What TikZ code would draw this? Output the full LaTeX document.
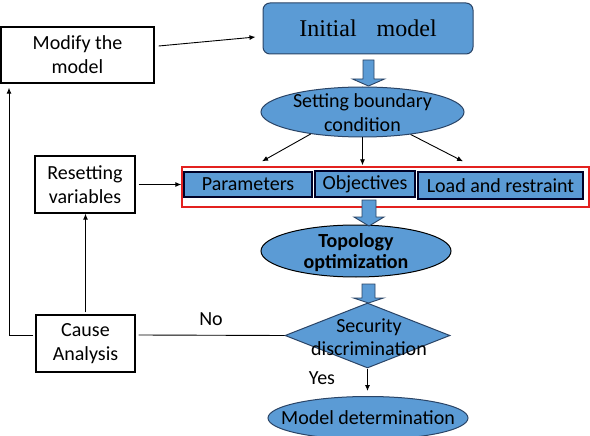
\documentclass[tikz,border=0pt]{standalone}
\usepackage{fontspec}
\setmainfont{Carlito}
\newfontfamily\serifft{Liberation Serif}
\usetikzlibrary{shapes.geometric,arrows.meta,calc}
\definecolor{fillb}{HTML}{5B9BD5}
\definecolor{edgeb}{HTML}{2A4466}
\definecolor{redb}{HTML}{E3211F}
\newcommand\blkarrow[6]{\draw[blockarr] (#1-#5,#2) -- (#1+#5,#2) -- (#1+#5,#3) -- (#1+#6,#3) -- (#1,#4) -- (#1-#6,#3) -- (#1-#5,#3) -- cycle;}
\begin{document}
\begin{tikzpicture}[x=1pt,y=-1pt,
  txt/.style={font=\fontsize{20}{24}\selectfont, align=center, inner sep=0pt},
  wbox/.style={draw=black, line width=1.3pt, fill=white, inner sep=0pt, align=center, font=\fontsize{20}{24}\selectfont},
  subbox/.style={draw=black!85!blue, line width=1.3pt, fill=fillb, inner sep=0pt, font=\fontsize{20}{24}\selectfont},
  ell/.style={ellipse, draw=edgeb, line width=1pt, fill=fillb, inner sep=0pt},
  arr/.style={-{Latex[length=6pt,width=5pt]}, line width=0.9pt},
  plain/.style={line width=0.9pt},
  blockarr/.style={fill=fillb, draw=edgeb, line width=0.9pt}]
\useasboundingbox (0,0) rectangle (590,436);
\fill[white] (0,0) rectangle (590,436);

% nodes
\node[draw=edgeb, fill=fillb, line width=1pt, rounded corners=7pt, minimum width=210pt, minimum height=51pt, inner sep=0pt,
      font=\serifft\fontsize{24}{28}\selectfont] (init) at (368,28.5) {Initial\hspace{14pt} model};
\node[wbox, minimum width=153pt, minimum height=56pt] (modify) at (77.5,55) {Modify the\\model};
\node[ell, minimum width=203pt, minimum height=50pt] (set) at (362.5,112) {};
\node[txt] (settxt) at (362.5,113) {Setting boundary\\condition};
\node[draw=redb, line width=1.4pt, minimum width=407pt, minimum height=40pt, inner sep=0pt] (red) at (385.5,187) {};
\node[subbox, minimum width=128pt, minimum height=25pt] (params) at (248,184.5) {Parameters};
\node[subbox, minimum width=100pt, minimum height=26pt] (objs) at (365,184) {Objectives};
\node[subbox, minimum width=165pt, minimum height=27pt] (load) at (500.5,185.5) {Load and restraint};
\node[wbox, minimum width=100pt, minimum height=57pt] (reset) at (85,184.5) {Resetting\\variables};
\node[ell, draw=black, minimum width=190pt, minimum height=52pt] (topo) at (356,251) {};
\node[txt, font=\bfseries\fontsize{20}{21}\selectfont] (topotxt) at (356,252.5) {Topology\\optimization};
\node[diamond, draw=edgeb, fill=fillb, line width=1pt, minimum width=165pt, minimum height=65pt, inner sep=0pt] (dia) at (367.5,335.5) {};
\node[txt, font=\fontsize{20}{23}\selectfont] (dtext) at (369,337) {Security\\discrimination};
\node[wbox, minimum width=99pt, minimum height=57pt] (cause) at (85.5,343.5) {Cause\\Analysis};
\node[ell, minimum width=200pt, minimum height=43pt] (model) at (368,418) {};
\node[txt] (modeltxt) at (368,418) {Model determination};
\node[txt] (nolab) at (211,319) {No};
\node[txt] (yeslab) at (322,378) {Yes};

% block arrows
\blkarrow{368.5}{60}{79}{86}{5.5}{16}
\blkarrow{369}{200}{217}{226}{7}{15}
\blkarrow{368.5}{284}{298}{303}{6.5}{15}

% connectors
\draw[arr] ([shift={(4,-9)}]modify.east) -- ([shift={(-7,8.5)}]init.west);
\draw[arr] (set.203) -- ([shift={(14,-10)}]params.north);
\draw[arr] (set.south) -- ($(set.south |- red.north)+(0,-1)$);
\draw[arr] (set.335) -- ([shift={(-37.5,-10)}]load.north);
\draw[arr] ([shift={(3,0)}]reset.east) -- (reset.east -| red.west);
\coordinate (lp) at (9,335);
\draw[arr] ([shift={(-2,-8.5)}]cause.west) -- (lp) -- ($(lp |- modify.south)+(0,4)$);
\draw[plain] ([shift={(3,-8.5)}]cause.east) -- (dia.west);
\draw[arr] ([shift={(0,-2)}]cause.north) -- (cause.north |- reset.south);
\draw[arr] (dia.south) -- ($(dia.south |- model.north)+(0,-5)$);
\end{tikzpicture}
\end{document}
